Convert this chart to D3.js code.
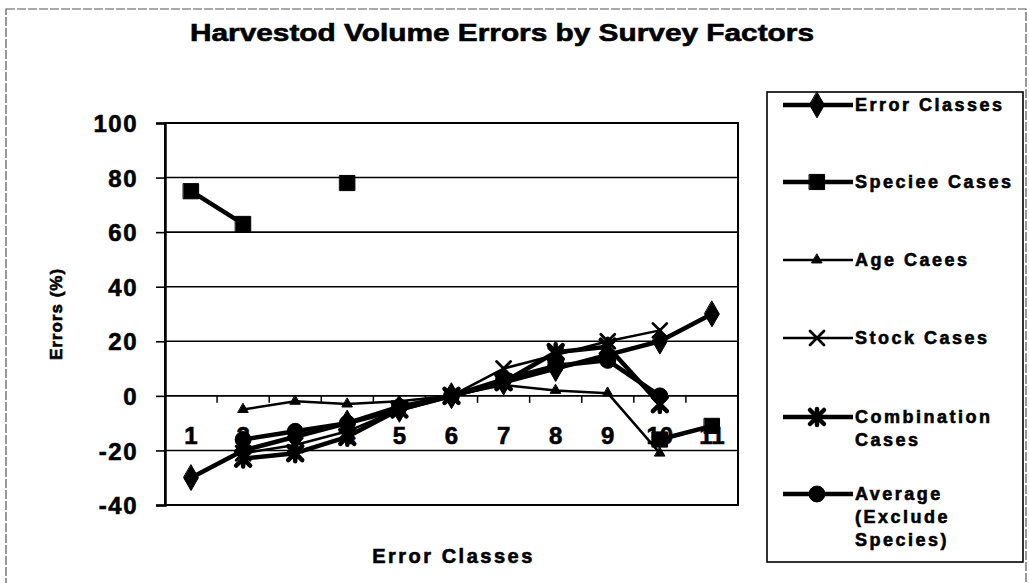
<!DOCTYPE html>
<html>
<head>
<meta charset="utf-8">
<script src="https://cdn.jsdelivr.net/npm/d3@7"></script>
<style>
  html, body { margin: 0; padding: 0; background: #fff; }
  svg { display: block; font-family: "Liberation Sans", Arial, sans-serif; font-weight: bold; }
  .heavy { stroke: #000; stroke-width: 0.6px; paint-order: stroke; }
</style>
</head>
<body>
<svg id="chart" width="1029" height="583"></svg>
<script>
// Error classes along the x axis
const categories = ["1","2","3","4","5","6","7","8","9","10","11"];
const yTicks = [100, 80, 60, 40, 20, 0, -20, -40];

// Errors (%) per error class; null = no value for that class
const errorClasses = [-30, -20, -15, -10, -5, 0, 5, 10, 15, 20, 30];
const speciesCases = [75, 63, null, 78, null, null, null, null, null, -16, -11];
const ageCases     = [null, -5, -2, -3, -2, 0, 4, 2, 1, -21, null];
const stockCases   = [null, -21, -18, -13, -5, 0, 10, 15, 20, 24, null];
const comboCases   = [null, -23, -21, -15, -5, 0, 5, 16, 18, -3, null];
const averageCases = [null, -16, -13, -10, -4, 0, 6, 11, 13, 0, null];

const seriesNames = [
  ["Error Classes"],
  ["Speciee Cases"],
  ["Age Caees"],
  ["Stock Cases"],
  ["Combination", "Cases"],
  ["Average", "(Exclude", "Species)"]
];

const series = [
  { values: errorClasses, marker: "diamond", width: 4.5 },
  { values: speciesCases, marker: "square",  width: 4.5 },
  { values: ageCases,     marker: "triangle", width: 2.5 },
  { values: stockCases,   marker: "x",       width: 2.5 },
  { values: comboCases,   marker: "star",    width: 4.5 },
  { values: averageCases, marker: "circle",  width: 4.5 }
];

const svg = d3.select("#chart");
const plot = { left: 165, right: 738, top: 123, bottom: 505 };

// outer chart frame
svg.append("rect")
  .attr("x", 6).attr("y", 9).attr("width", 1020).attr("height", 600)
  .attr("fill", "none").attr("stroke", "#555").attr("stroke-width", 1.2)
  .attr("stroke-dasharray", "9 2");

// title
svg.append("text")
  .attr("class", "heavy")
  .attr("x", 502).attr("y", 41)
  .attr("text-anchor", "middle")
  .attr("font-size", 24)
  .attr("textLength", 624).attr("lengthAdjust", "spacingAndGlyphs")
  .text("Harvestod Volume Errors by Survey Factors");

const x = d3.scaleBand().domain(categories).range([plot.left, plot.right]);
const y = d3.scaleLinear().domain([-40, 100]).range([plot.bottom, plot.top]);

// horizontal gridlines
svg.append("g")
  .selectAll("line").data(yTicks).join("line")
  .attr("x1", plot.left).attr("x2", plot.right)
  .attr("y1", d => y(d)).attr("y2", d => y(d))
  .attr("stroke", "#000").attr("stroke-width", 1.6);

// plot frame
svg.append("rect")
  .attr("x", plot.left).attr("y", plot.top)
  .attr("width", plot.right - plot.left).attr("height", plot.bottom - plot.top)
  .attr("fill", "none").attr("stroke", "#000").attr("stroke-width", 2);

// value axis
const yAxis = svg.append("g")
  .attr("transform", `translate(${plot.left},0)`)
  .call(d3.axisLeft(y).tickValues(yTicks).tickSize(9).tickPadding(18)
    .tickFormat(d => String(d)));
yAxis.select(".domain").attr("stroke-width", 2.5);
yAxis.selectAll(".tick line").attr("stroke-width", 1.6);
yAxis.selectAll("text")
  .attr("class", "heavy")
  .attr("font-size", 24).attr("font-weight", "bold").attr("letter-spacing", 1.5)
  .attr("font-family", "Liberation Sans, Arial, sans-serif")
  .attr("fill", "#000").attr("dy", "0.36em");

// category axis crossing at zero
const xAxis = svg.append("g")
  .attr("transform", `translate(0,${y(0)})`)
  .call(d3.axisBottom(x).tickSize(0).tickPadding(30));
xAxis.select(".domain").remove();
xAxis.selectAll("text")
  .attr("class", "heavy")
  .attr("font-size", 24).attr("font-weight", "bold")
  .attr("font-family", "Liberation Sans, Arial, sans-serif")
  .attr("fill", "#000").attr("dy", "0.36em")
  .attr("y", 40);
// tick marks between categories
svg.append("g")
  .selectAll("line").data(categories.slice(1)).join("line")
  .attr("x1", d => x(d)).attr("x2", d => x(d))
  .attr("y1", y(0)).attr("y2", y(0) + 7)
  .attr("stroke", "#000").attr("stroke-width", 1.5);

// axis titles
svg.append("text")
  .attr("class", "heavy")
  .attr("transform", `translate(56,${(plot.top + plot.bottom) / 2}) rotate(-90)`)
  .attr("text-anchor", "middle").attr("dy", "0.35em")
  .attr("font-size", 17).attr("letter-spacing", 1)
  .text("Errors (%)");
svg.append("text")
  .attr("class", "heavy")
  .attr("x", (plot.left + plot.right) / 2 + 2).attr("y", 563)
  .attr("text-anchor", "middle")
  .attr("font-size", 20).attr("letter-spacing", 2.5)
  .text("Error Classes");

// marker shapes
function markerPath(type) {
  switch (type) {
    case "diamond":  return d3.symbol(d3.symbolDiamond, 190)();
    case "square":   return d3.symbol(d3.symbolSquare, 230)();
    case "triangle": return d3.symbol(d3.symbolTriangle, 45)();
    case "circle":   return d3.symbol(d3.symbolCircle, 200)();
    case "x":        return "M-7,-7L7,7M-7,7L7,-7";
    case "star":     return "M-7,-7L7,7M-7,7L7,-7M0,-8L0,8";
  }
}
function drawMarker(g, type, cx, cy) {
  const stroked = type === "x" || type === "star";
  g.append("path")
    .attr("transform", `translate(${cx},${cy})`)
    .attr("d", markerPath(type))
    .attr("fill", stroked ? "none" : "#000")
    .attr("stroke", "#000")
    .attr("stroke-width", stroked ? (type === "star" ? 4.5 : 2.8) : 1)
    .attr("stroke-linecap", "round");
}

const cx = c => x(c) + x.bandwidth() / 2;
const line = d3.line()
  .defined(d => d.v != null)
  .x(d => cx(d.c))
  .y(d => y(d.v));

const seriesG = svg.append("g");
series.forEach(s => {
  const pts = categories.map((c, i) => ({ c, v: s.values[i] }));
  const g = seriesG.append("g");
  g.append("path")
    .attr("d", line(pts))
    .attr("fill", "none").attr("stroke", "#000")
    .attr("stroke-width", s.width).attr("stroke-linejoin", "round");
  pts.filter(p => p.v != null).forEach(p => drawMarker(g, s.marker, cx(p.c), y(p.v)));
});

// legend
const legend = { x: 767, y: 92, w: 256, h: 470 };
svg.append("rect")
  .attr("x", legend.x).attr("y", legend.y).attr("width", legend.w).attr("height", legend.h)
  .attr("fill", "#fff").attr("stroke", "#000").attr("stroke-width", 1.6);
const legendY = [105, 182, 260, 338, 417, 494];
series.forEach((s, i) => {
  const g = svg.append("g");
  const ly = legendY[i];
  g.append("line")
    .attr("x1", 783).attr("x2", 853).attr("y1", ly).attr("y2", ly)
    .attr("stroke", "#000").attr("stroke-width", s.width);
  drawMarker(g, s.marker, 817, ly);
  seriesNames[i].forEach((t, j) => {
    g.append("text")
      .attr("class", "heavy")
      .attr("x", 855).attr("y", ly + j * 23)
      .attr("dy", "0.36em")
      .attr("font-size", 18).attr("letter-spacing", 2.5)
      .text(t);
  });
});
</script>
</body>
</html>
